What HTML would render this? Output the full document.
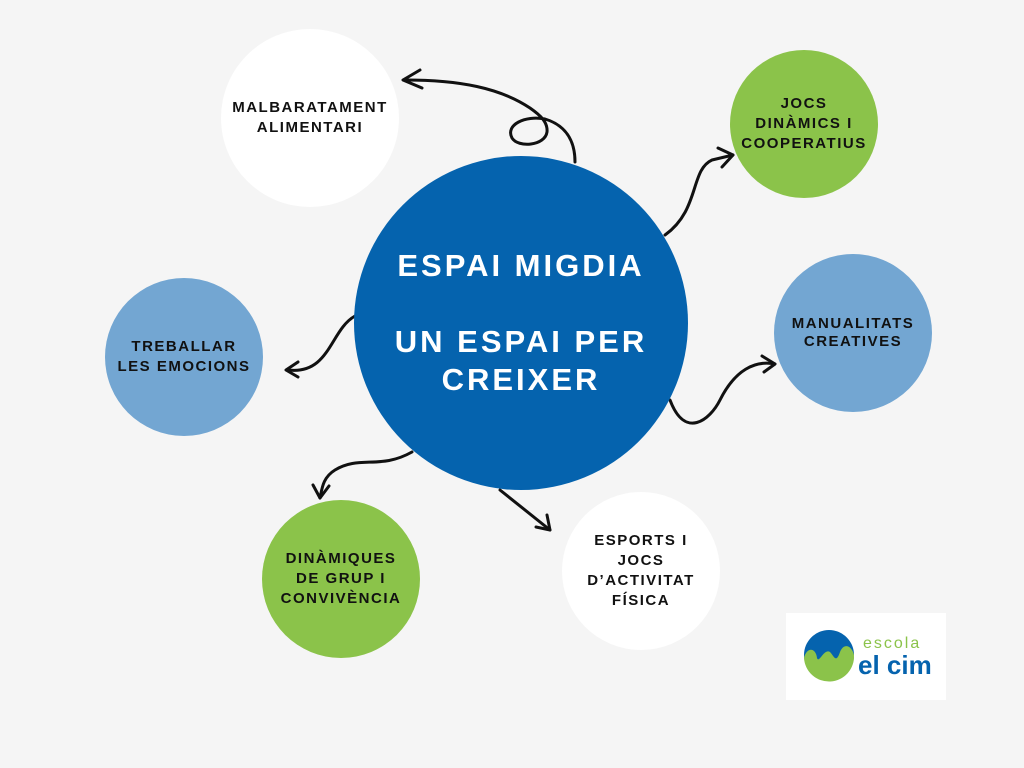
<!DOCTYPE html>
<html><head><style>
body{margin:0;width:1024px;height:768px;background:#f5f5f5;overflow:hidden;position:relative;font-family:"Liberation Sans",sans-serif}
.c{position:absolute;border-radius:50%;display:flex;align-items:center;justify-content:center;text-align:center;font-weight:bold;color:#111;font-size:15px;letter-spacing:1.5px;line-height:20px}
</style></head><body>
<svg width="1024" height="768" style="position:absolute;left:0;top:0" fill="none" stroke="#111" stroke-width="3" stroke-linecap="round" stroke-linejoin="round">
<path d="M575,162 C575,140 565,125 545,119 C525,115 505,125 512,138 C518,148 545,146 547,132 C548,122 540,115 530,108 C500,88 460,80 405,80"/>
<path d="M420,70 L403,80 L422,88"/>
<path d="M665,235 C700,210 690,170 712,160 L733,155"/>
<path d="M718,148 L733,155 L722,167"/>
<path d="M355,316 C330,330 330,375 288,370"/>
<path d="M298,362 L286,370 L298,377"/>
<path d="M670,400 C685,440 710,420 720,400 C735,370 755,360 775,364"/>
<path d="M762,356 L775,364 L764,372"/>
<path d="M412,452 C380,470 360,455 335,470 C322,478 322,490 320,498"/>
<path d="M313,485 L320,498 L329,486"/>
<path d="M500,490 L550,530"/>
<path d="M536,527 L550,530 L547,515"/>
</svg>
<div class="c" style="left:221px;top:29px;width:178px;height:178px;background:#fff">MALBARATAMENT<br>ALIMENTARI</div>
<div class="c" style="left:730px;top:50px;width:148px;height:148px;background:#8bc34a">JOCS<br>DINÀMICS I<br>COOPERATIUS</div>
<div class="c" style="left:105px;top:278px;width:158px;height:158px;background:#73a6d2">TREBALLAR<br>LES EMOCIONS</div>
<div class="c" style="left:774px;top:254px;width:158px;height:158px;background:#73a6d2;line-height:18px">MANUALITATS<br>CREATIVES</div>
<div class="c" style="left:262px;top:500px;width:158px;height:158px;background:#8bc34a">DINÀMIQUES<br>DE GRUP I<br>CONVIVÈNCIA</div>
<div class="c" style="left:562px;top:492px;width:158px;height:158px;background:#fff">ESPORTS I<br>JOCS<br>D’ACTIVITAT<br>FÍSICA</div>
<div class="c" style="left:354px;top:156px;width:334px;height:334px;background:#0563ae;color:#fff;font-size:31px;letter-spacing:3px;line-height:38px">ESPAI MIGDIA<br><br>UN ESPAI PER<br>CREIXER</div>
<div style="position:absolute;left:786px;top:613px;width:160px;height:87px;background:#fff">
<svg width="60" height="60" style="position:absolute;left:18px;top:17px" viewBox="0 0 60 60">
<circle cx="25" cy="25" r="25" fill="#0563ae"/>
<path d="M0,28 C3,16 12,18 13,28 C15,34 20,18 26,22 C30,26 32,34 36,22 C40,12 48,16 50,25 A25,25 0 0 1 0,28Z" fill="#8bc34a"/>
</svg>
<div style="position:absolute;left:77px;top:22px;color:#8bc34a;font-size:16px;letter-spacing:2px">escola</div>
<div style="position:absolute;left:72px;top:37px;color:#0563ae;font-size:26px;font-weight:bold">el cim</div>
</div>
</body></html>
